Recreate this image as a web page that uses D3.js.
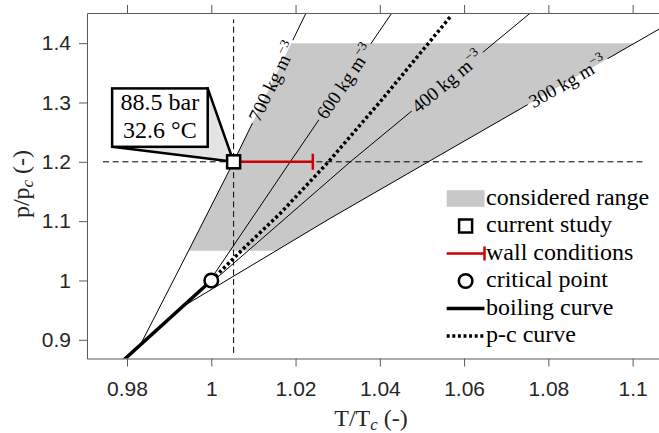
<!DOCTYPE html>
<html>
<head>
<meta charset="utf-8">
<script src="https://cdn.jsdelivr.net/npm/d3@7"></script>
<style>
body { margin:0; background:#fff; }
svg { display:block; }
</style>
</head>
<body>
<script>
// axis ticks
var tTicks = [0.98, 1, 1.02, 1.04, 1.06, 1.08, 1.1];
var pTicks = [0.9, 1, 1.1, 1.2, 1.3, 1.4];

// isochores (T/Tc, p/pc)
var isoNames = ["700", "600", "400", "300"];
var iso700T = [0.9832, 0.99265, 1.00491, 1.0238];
var iso700P = [0.892, 1.0229, 1.1944, 1.47];
var iso600T = [0.9993, 1.01873, 1.0447];
var iso600P = [0.996, 1.2, 1.47];
var iso400T = [0.9998, 1.0330, 1.0790];
var iso400P = [0.995, 1.2, 1.47];
var iso300T = [0.9930, 1.0282, 1.0515, 1.1131];
var iso300P = [0.955, 1.1046, 1.2, 1.4515];
var labelP = 1.335;

// boiling curve and pseudo-critical curve
var boilT = [0.9790, 1.0];
var boilP = [0.8646, 1.0];
var pcT = [1.0, 1.00847, 1.01636, 1.02782, 1.04008, 1.05708];
var pcP = [1.0, 1.0595, 1.113, 1.2, 1.3012, 1.4474];

// considered range (pressure bounds, between 700 and 300 isochores)
var rangeP = [1.05, 1.4];

// current study, wall conditions, critical point
var studyT = 1.0053, studyP = 1.2;
var wallT = 1.0241;
var critT = 1.0, critP = 1.0;
var calloutText = ["88.5 bar", "32.6 \u00B0C"];

// guide lines
var guideVP = [0.878, 1.4402];
var guideHT = [0.9743, 1.1025];

var legendItems = ["considered range", "current study", "wall conditions", "critical point", "boiling curve", "p-c curve"];

var serif = "Liberation Serif, Times New Roman, serif";
var sans = "Liberation Sans, Arial, sans-serif";

var W = 659, H = 433;
var svg = d3.select("body").append("svg").attr("width", W).attr("height", H);

var x = d3.scaleLinear().domain([0.9705, 1.1065]).range([87, 660]);
var y = d3.scaleLinear().domain([0.8685, 1.4508]).range([358.5, 13]);

var zip = function(a, b) { return a.map(function(v, i) { return [v, b[i]]; }); };
var isos = [zip(iso700T, iso700P), zip(iso600T, iso600P), zip(iso400T, iso400P), zip(iso300T, iso300P)];

// T on a polyline at a given p
function tAt(pts, p) {
  for (var i = 0; i < pts.length - 1; i++) {
    var a = pts[i], b = pts[i + 1];
    if ((p >= a[1] && p <= b[1]) || i == pts.length - 2) {
      return a[0] + (p - a[1]) / (b[1] - a[1]) * (b[0] - a[0]);
    }
  }
}

var defs = svg.append("defs");
defs.append("clipPath").attr("id", "plot")
  .append("rect").attr("x", 87).attr("y", 13).attr("width", 573).attr("height", 345.5);

var line = d3.line().x(function(d) { return x(d[0]); }).y(function(d) { return y(d[1]); });

var g = svg.append("g").attr("clip-path", "url(#plot)");

// shaded region
var steps = d3.range(0, 41).map(function(i) { return rangeP[0] + (rangeP[1] - rangeP[0]) * i / 40; });
var left = steps.map(function(p) { return [tAt(isos[0], p), p]; });
var right = steps.slice().reverse().map(function(p) { return [tAt(isos[3], p), p]; });
g.append("path").attr("d", line(left.concat(right)) + "Z").attr("fill", "#c8c8c8");

// label positions and a mask to break the lines there
var labels = isos.map(function(pts, i) {
  var t = tAt(pts, labelP);
  var t1 = tAt(pts, labelP - 0.02), t2 = tAt(pts, labelP + 0.02);
  var ang = Math.atan2(y(labelP + 0.02) - y(labelP - 0.02), x(t2) - x(t1)) * 180 / Math.PI;
  return { name: isoNames[i], px: x(t), py: y(labelP), ang: ang };
});
var mask = defs.append("mask").attr("id", "gaps").attr("maskUnits", "userSpaceOnUse")
  .attr("x", 0).attr("y", 0).attr("width", W).attr("height", H);
mask.append("rect").attr("width", W).attr("height", H).attr("fill", "#fff");
mask.selectAll("rect.gap").data(labels).enter().append("rect").attr("class", "gap")
  .attr("x", -46).attr("y", -8).attr("width", 92).attr("height", 16).attr("fill", "#000")
  .attr("transform", function(d) { return "translate(" + d.px + "," + d.py + ") rotate(" + d.ang + ")"; });

g.append("g").attr("mask", "url(#gaps)").selectAll("path").data(isos).enter().append("path")
  .attr("d", line).attr("fill", "none").attr("stroke", "#000").attr("stroke-width", 1);

var lt = g.selectAll("text.iso").data(labels).enter().append("text").attr("class", "iso")
  .attr("transform", function(d) { return "translate(" + d.px + "," + d.py + ") rotate(" + d.ang + ")"; })
  .attr("text-anchor", "middle").attr("dy", "0.33em")
  .attr("font-family", serif).attr("font-size", 19).attr("fill", "#000");
lt.append("tspan").text(function(d) { return d.name + " kg m"; });
lt.append("tspan").attr("dy", -8).attr("font-size", 13).text("\u22123");

// dashed guides
g.append("path").attr("d", line([[studyT, guideVP[0]], [studyT, guideVP[1]]]))
  .attr("stroke", "#000").attr("stroke-width", 1).attr("stroke-dasharray", "6 3.7");
g.append("path").attr("d", line([[guideHT[0], studyP], [guideHT[1], studyP]]))
  .attr("stroke", "#000").attr("stroke-width", 1).attr("stroke-dasharray", "6 3.7");

// boiling curve, p-c curve
g.append("path").attr("d", line(zip(boilT, boilP))).attr("fill", "none")
  .attr("stroke", "#000").attr("stroke-width", 3.5);
g.append("path").attr("d", line(zip(pcT, pcP))).attr("fill", "none")
  .attr("stroke", "#000").attr("stroke-width", 3.5).attr("stroke-dasharray", "3 2.6");

// wall conditions
g.append("path").attr("d", line([[studyT, studyP], [wallT, studyP]]))
  .attr("stroke", "#cc0000").attr("stroke-width", 2.5);
g.append("line").attr("x1", x(wallT)).attr("x2", x(wallT))
  .attr("y1", y(studyP) - 8).attr("y2", y(studyP) + 8)
  .attr("stroke", "#cc0000").attr("stroke-width", 2.5);

// callout
var sx = x(studyT), sy = y(studyP);
var bx = sx - 121.5, by = sy - 73.4, bw = 95.6, bh = 58.4;
svg.append("path").attr("d", "M" + (bx + bw) + "," + by + "L" + sx + "," + sy + "L" + bx + "," + (by + bh) + "Z")
  .attr("fill", "#e4e4e4").attr("stroke", "#000").attr("stroke-width", 2.5).attr("stroke-linejoin", "round");
svg.append("rect").attr("x", bx).attr("y", by).attr("width", bw).attr("height", bh)
  .attr("fill", "#fff").attr("stroke", "#000").attr("stroke-width", 2.5);
svg.selectAll("text.call").data(calloutText).enter().append("text").attr("class", "call")
  .attr("x", bx + bw / 2).attr("y", function(d, i) { return by + 21.7 + i * 28.3; })
  .attr("text-anchor", "middle").attr("font-family", serif).attr("font-size", 24).text(function(d) { return d; });

// markers
svg.append("rect").attr("x", sx - 6.5).attr("y", sy - 6.5).attr("width", 13).attr("height", 13)
  .attr("fill", "#fff").attr("stroke", "#000").attr("stroke-width", 2.5);
svg.append("circle").attr("cx", x(critT)).attr("cy", y(critP)).attr("r", 6.8)
  .attr("fill", "#fff").attr("stroke", "#000").attr("stroke-width", 2.5);

// axes
var axisColor = "#5a5a5a";
var xb = svg.append("g").attr("transform", "translate(0,358.5)")
  .call(d3.axisBottom(x).tickValues(tTicks).tickSize(8).tickSizeOuter(0).tickPadding(15).tickFormat(d3.format("~g")));
var xt = svg.append("g").attr("transform", "translate(0,13)")
  .call(d3.axisTop(x).tickValues(tTicks).tickSize(8).tickSizeOuter(0).tickFormat(""));
var yl = svg.append("g").attr("transform", "translate(87,0)")
  .call(d3.axisLeft(y).tickValues(pTicks).tickSize(8).tickSizeOuter(0).tickPadding(8).tickFormat(d3.format("~g")));
[xb, xt, yl].forEach(function(a) {
  a.select(".domain").attr("stroke", axisColor);
  a.selectAll(".tick line").attr("stroke", axisColor);
  a.selectAll("text").attr("font-family", sans).attr("font-size", 21).attr("fill", "#262626");
});

// axis labels
var xl = svg.append("text").attr("x", 371).attr("y", 426).attr("text-anchor", "middle")
  .attr("font-family", serif).attr("font-size", 24).attr("fill", "#262626");
xl.append("tspan").text("T/T");
xl.append("tspan").attr("dy", 4).attr("font-size", 17).attr("font-style", "italic").text("c");
xl.append("tspan").attr("dy", -4).text(" (-)");
var ylb = svg.append("text").attr("transform", "translate(29,184) rotate(-90)").attr("text-anchor", "middle")
  .attr("font-family", serif).attr("font-size", 24).attr("fill", "#262626");
ylb.append("tspan").text("p/p");
ylb.append("tspan").attr("dy", 4).attr("font-size", 17).attr("font-style", "italic").text("c");
ylb.append("tspan").attr("dy", -4).text(" (-)");

// legend
var lx0 = 446.7, lx1 = 484.5, ly0 = 198.5, ldy = 27.5;
var leg = svg.append("g");
leg.selectAll("text").data(legendItems).enter().append("text")
  .attr("x", lx1 + 1.5).attr("y", function(d, i) { return ly0 + i * ldy + 6; })
  .attr("font-family", serif).attr("font-size", 24).attr("fill", "#000").text(function(d) { return d; });
var lc = (lx0 + lx1) / 2;
leg.append("rect").attr("x", lx0).attr("y", ly0 - 8.3).attr("width", lx1 - lx0).attr("height", 16.6).attr("fill", "#c8c8c8");
leg.append("rect").attr("x", lc - 6.5).attr("y", ly0 + ldy - 6.5).attr("width", 13).attr("height", 13)
  .attr("fill", "#fff").attr("stroke", "#000").attr("stroke-width", 2.5);
leg.append("line").attr("x1", lx0).attr("x2", lx1).attr("y1", ly0 + 2 * ldy).attr("y2", ly0 + 2 * ldy)
  .attr("stroke", "#cc0000").attr("stroke-width", 2.5);
leg.append("line").attr("x1", lx1).attr("x2", lx1).attr("y1", ly0 + 2 * ldy - 7).attr("y2", ly0 + 2 * ldy + 7)
  .attr("stroke", "#cc0000").attr("stroke-width", 2.5);
leg.append("circle").attr("cx", lc).attr("cy", ly0 + 3 * ldy).attr("r", 6.8)
  .attr("fill", "#fff").attr("stroke", "#000").attr("stroke-width", 2.5);
leg.append("line").attr("x1", lx0).attr("x2", lx1).attr("y1", ly0 + 4 * ldy).attr("y2", ly0 + 4 * ldy)
  .attr("stroke", "#000").attr("stroke-width", 3.5);
leg.append("line").attr("x1", lx0).attr("x2", lx1).attr("y1", ly0 + 5 * ldy).attr("y2", ly0 + 5 * ldy)
  .attr("stroke", "#000").attr("stroke-width", 3.5).attr("stroke-dasharray", "3 2.6");
</script>
</body>
</html>
